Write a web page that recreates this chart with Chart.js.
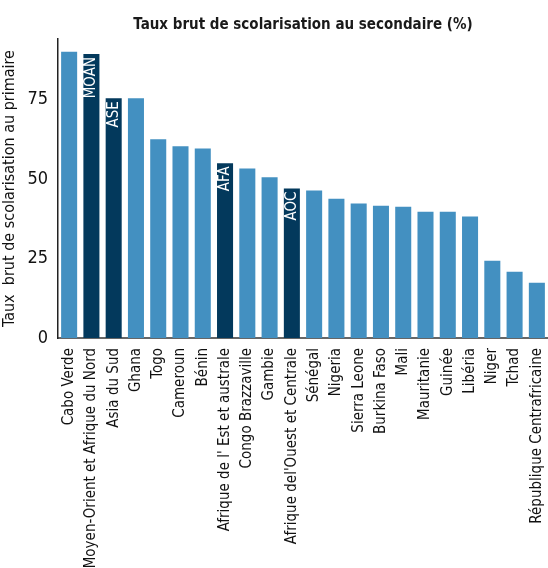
<!DOCTYPE html>
<html>
<head>
<meta charset="utf-8">
<script src="https://cdn.jsdelivr.net/npm/chart.js@4.4.0/dist/chart.umd.min.js"></script>
<style>
  html, body { margin: 0; padding: 0; background: #fff; }
  #wrap { width: 548px; height: 568px; }
</style>
</head>
<body>
<div id="wrap"><canvas id="myChart"></canvas></div>
<script>
const countries = ['Cabo Verde', 'Moyen-Orient et Afrique du Nord', 'Asia du Sud', 'Ghana', 'Togo',
    'Cameroun', 'Bénin', "Afrique de l' Est et australe", 'Congo Brazzaville', 'Gambie',
    "Afrique del'Ouest et Centrale", 'Sénégal', 'Nigeria', 'Sierra Leone', 'Burkina Faso', 'Mali',
    'Mauritanie', 'Guinée', 'Libéria', 'Niger', 'Tchad', 'République Centrafricaine'];
const rates = [90.0, 89.3, 75.4, 75.4, 62.5, 60.3, 59.6, 54.9, 53.3, 50.5, 47.0,
    46.4, 43.8, 42.3, 41.6, 41.3, 39.7, 39.7, 38.2, 24.3, 20.8, 17.4];
// short codes shown inside the regional bars
const regionCodes = ['', 'MOAN', 'ASE', '', '', '', '', 'AFA', '', '', 'AOC',
    '', '', '', '', '', '', '', '', '', '', ''];
const yTicks = [0, 25, 50, 75];

const FONT = "'Liberation Sans Narrow', 'DejaVu Sans Condensed', 'Roboto Condensed', sans-serif";
const lightBlue = '#4390c1';
const darkBlue = '#03395c';

const barColors = regionCodes.map(c => c ? darkBlue : lightBlue);

//Draws the region codes inside the dark bars
const codeLabels = {
    id: 'codeLabels',
    afterDatasetsDraw(chart) {
        const ctx = chart.ctx;
        const meta = chart.getDatasetMeta(0);
        ctx.save();
        ctx.fillStyle = '#ffffff';
        ctx.font = '15px ' + FONT;
        ctx.textAlign = 'right';
        ctx.textBaseline = 'middle';
        meta.data.forEach((bar, i) => {
            if (!regionCodes[i]) return;
            ctx.save();
            ctx.translate(bar.x, bar.y + 3);
            ctx.rotate(-Math.PI / 2);
            ctx.fillText(regionCodes[i], 0, 0);
            ctx.restore();
        });
        ctx.restore();
    }
};

new Chart(document.getElementById('myChart'), {
    type: 'bar',
    data: {
        labels: countries,
        datasets: [{
            data: rates,
            backgroundColor: barColors,
            barPercentage: 0.8,
            categoryPercentage: 0.9
        }]
    },
    options: {
        responsive: true,
        maintainAspectRatio: false,
        animation: false,
        layout: { padding: { left: 0, right: 0, top: 0, bottom: 0 } },
        plugins: {
            legend: { display: false },
            tooltip: { enabled: false },
            title: {
                display: true,
                fullSize: false,
                text: 'Taux brut de scolarisation au secondaire (%)',
                color: '#1a1a1a',
                font: { family: FONT, size: 15, weight: 'bold' },
                padding: { top: 16, bottom: 5 }
            }
        },
        scales: {
            x: {
                grid: { display: false },
                border: { display: true, color: '#666', width: 2 },
                ticks: {
                    color: '#111',
                    font: { family: FONT, size: 15 },
                    minRotation: 90,
                    maxRotation: 90,
                    autoSkip: false,
                    padding: 2
                },
                afterFit: scale => {
                    scale.height = 230;
                    scale.paddingLeft = 0;
                    scale.paddingRight = 0;
                }
            },
            y: {
                min: 0,
                max: 94,
                grid: { display: false, drawTicks: false },
                border: { display: true, color: '#222', width: 1.5 },
                afterBuildTicks: scale => { scale.ticks = yTicks.map(v => ({ value: v })); },
                ticks: {
                    color: '#111',
                    font: { family: FONT, size: 18 },
                    padding: 10
                },
                title: {
                    display: true,
                    text: 'Taux  brut de scolarisation au primaire',
                    color: '#111',
                    font: { family: FONT, size: 16 },
                    padding: { top: 0, bottom: 2 }
                },
                afterFit: scale => { scale.width = 58; }
            }
        }
    },
    plugins: [codeLabels]
});
</script>
</body>
</html>
